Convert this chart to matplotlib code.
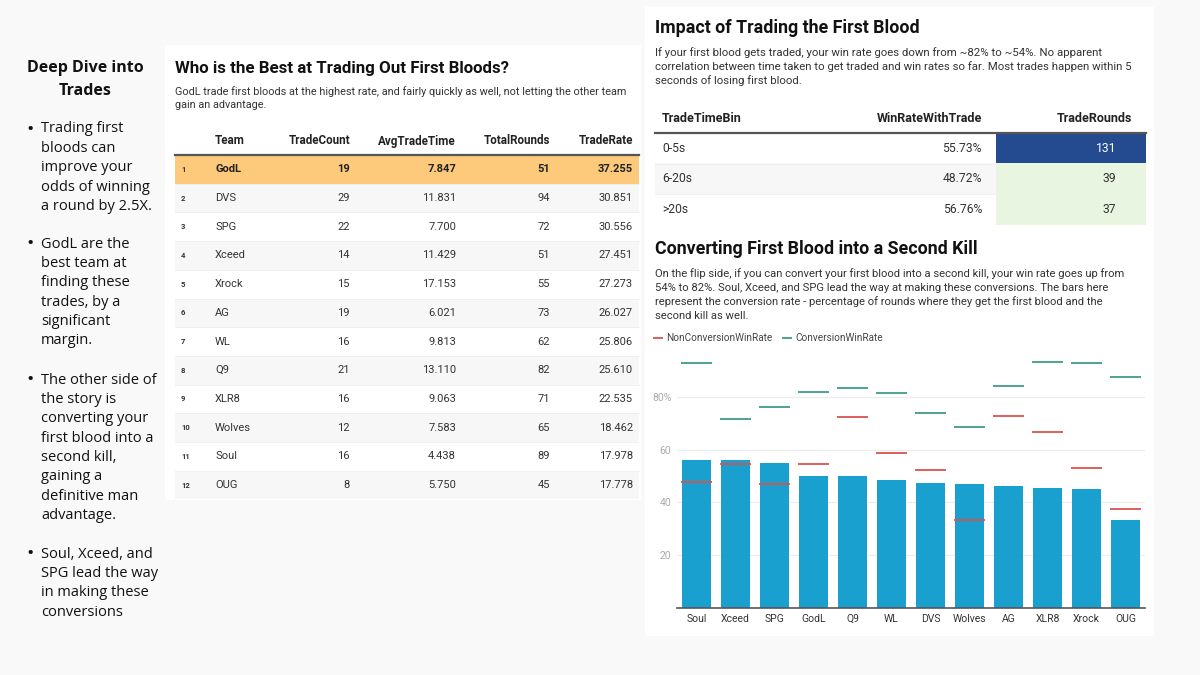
import matplotlib
matplotlib.use('Agg')
import matplotlib.pyplot as plt
from matplotlib.patches import Rectangle
from matplotlib.lines import Line2D

# ---------------- data ----------------
left_title = ["Deep Dive into", "Trades"]
bullets = [
    ["Trading first", "bloods can", "improve your", "odds of winning", "a round by 2.5X."],
    ["GodL are the", "best team at", "finding these", "trades, by a", "significant", "margin."],
    ["The other side of", "the story is", "converting your", "first blood into a", "second kill,",
     "gaining a", "definitive man", "advantage."],
    ["Soul, Xceed, and", "SPG lead the way", "in making these", "conversions"],
]

t1_title = "Who is the Best at Trading Out First Bloods?"
t1_sub = ["GodL trade first bloods at the highest rate, and fairly quickly as well, not letting the other team",
          "gain an advantage."]
t1_cols = ["Team", "TradeCount", "AvgTradeTime", "TotalRounds", "TradeRate"]
t1_team = ['GodL', 'DVS', 'SPG', 'Xceed', 'Xrock', 'AG', 'WL', 'Q9', 'XLR8', 'Wolves', 'Soul', 'OUG']
t1_trade_count = [19, 29, 22, 14, 15, 19, 16, 21, 16, 12, 16, 8]
t1_avg_time = [7.847, 11.831, 7.700, 11.429, 17.153, 6.021, 9.813, 13.110, 9.063, 7.583, 4.438, 5.750]
t1_total_rounds = [51, 94, 72, 51, 55, 73, 62, 82, 71, 65, 89, 45]
t1_trade_rate = [37.255, 30.851, 30.556, 27.451, 27.273, 26.027, 25.806, 25.610, 22.535, 18.462, 17.978, 17.778]

t2_title = "Impact of Trading the First Blood"
t2_sub = ["If your first blood gets traded, your win rate goes down from ~82% to ~54%. No apparent",
          "correlation between time taken to get traded and win rates so far. Most trades happen within 5",
          "seconds of losing first blood."]
t2_cols = ["TradeTimeBin", "WinRateWithTrade", "TradeRounds"]
t2_bins = ['0-5s', '6-20s', '>20s']
t2_winrate = [55.73, 48.72, 56.76]
t2_rounds = [131, 39, 37]

c_title = "Converting First Blood into a Second Kill"
c_sub = ["On the flip side, if you can convert your first blood into a second kill, your win rate goes up from",
         "54% to 82%. Soul, Xceed, and SPG lead the way at making these conversions. The bars here",
         "represent the conversion rate - percentage of rounds where they get the first blood and the",
         "second kill as well."]
c_teams = ['Soul', 'Xceed', 'SPG', 'GodL', 'Q9', 'WL', 'DVS', 'Wolves', 'AG', 'XLR8', 'Xrock', 'OUG']
c_conv_rate = [56.2, 55.9, 55.1, 49.9, 49.9, 48.4, 47.3, 47.0, 46.3, 45.3, 44.9, 33.2]
c_nonconv_win = [47.6, 54.6, 47.0, 54.6, 72.2, 58.9, 52.4, 33.3, 72.7, 66.6, 52.9, 37.5]
c_conv_win = [92.7, 71.5, 76.2, 81.9, 83.4, 81.3, 73.8, 68.7, 84.2, 93.3, 92.9, 87.5]
c_yticks = [20, 40, 60, 80]
c_yticklabels = ['20', '40', '60', '80%']

# ---------------- helpers ----------------
W, H = 1200, 675
fig = plt.figure(figsize=(12, 6.75), dpi=100)
fig.patch.set_facecolor('#f9f9f9')
DASH = ['Roboto', 'DejaVu Sans']
SIDE = ['Open Sans', 'DejaVu Sans']


def fx(x):
    return x / W


def fy(y):
    return 1 - y / H


def rect(x0, y0, x1, y1, color, z=-1):
    fig.patches.append(Rectangle((fx(x0), fy(y1)), (x1 - x0) / W, (y1 - y0) / H,
                                 transform=fig.transFigure, facecolor=color,
                                 edgecolor='none', zorder=z))


def hline(x0, x1, y, color, lw, z=0):
    fig.add_artist(Line2D([fx(x0), fx(x1)], [fy(y), fy(y)], color=color, lw=lw,
                          transform=fig.transFigure, zorder=z))


def text(x, y, s, size=8, color='#333333', weight='normal', ha='left', family=DASH, **kw):
    fig.text(fx(x), fy(y), s, fontsize=size, color=color, fontweight=weight, ha=ha,
             va='center', family=family, **kw)


# ---------------- panels ----------------
rect(165, 45, 641, 500, 'white', z=-2)
rect(645, 7, 1154, 636, 'white', z=-2)

# ---------------- left text ----------------
text(85, 68, left_title[0], size=11.5, weight='bold', ha='center', color='#111111', family=SIDE)
text(85, 91, left_title[1], size=11.5, weight='bold', ha='center', color='#111111', family=SIDE)
starts = [129, 244, 380, 554]
for lines, y0 in zip(bullets, starts):
    text(30, y0 + 0.5, '\u2022', size=14, color='#111111', ha='center', family=SIDE)
    for k, ln in enumerate(lines):
        text(41, y0 + k * 19.35, ln, size=10.5, color='#111111', family=SIDE)

# ---------------- table 1 ----------------
text(175, 69, t1_title, size=12.2, weight='bold', color='#111111')
for k, ln in enumerate(t1_sub):
    text(175, 92 + k * 13.5, ln, size=7.8, color='#333333')

col_x = [215, 350, 456, 550, 633]
col_ha = ['left', 'right', 'right', 'right', 'right']
for c, x, ha in zip(t1_cols, col_x, col_ha):
    text(x, 141, c, size=8.4, weight='bold', color='#222222', ha=ha)

top, rh = 155, 28.7
for i in range(len(t1_team)):
    y0 = top + i * rh
    if i == 0:
        bg = '#fdc97a'
    elif i % 2 == 1:
        bg = '#f7f7f7'
    else:
        bg = 'white'
    rect(175, y0, 639, y0 + rh, bg)
    if i > 0:
        hline(175, 639, y0, '#eeeeee', 0.6, z=-0.5)
    yc = y0 + rh / 2
    w = 'bold' if i == 0 else 'normal'
    col = '#222222' if i == 0 else '#333333'
    text(181, yc, str(i + 1), size=5.5, weight='bold', color='#333333')
    vals = [t1_team[i], f"{t1_trade_count[i]}", f"{t1_avg_time[i]:.3f}",
            f"{t1_total_rounds[i]}", f"{t1_trade_rate[i]:.3f}"]
    for v, x, ha in zip(vals, col_x, col_ha):
        text(x, yc, v, size=8, weight=w, color=col, ha=ha)
hline(175, 639, top, '#555555', 1.6, z=1)

# ---------------- table 2 ----------------
text(655, 28, t2_title, size=12.8, weight='bold', color='#111111')
for k, ln in enumerate(t2_sub):
    text(655, 53 + k * 14, ln, size=8.2, color='#333333')

t2x = [662, 982, 1132]
t2ha = ['left', 'right', 'right']
for c, x, ha in zip(t2_cols, t2x, t2ha):
    text(x, 118, c, size=9, weight='bold', color='#222222', ha=ha)

top2, rh2 = 133, 30.5
for i in range(len(t2_bins)):
    y0 = top2 + i * rh2
    rect(655, y0, 996, y0 + rh2, '#f7f7f7' if i == 1 else 'white')
    if i > 0:
        hline(655, 996, y0, '#eeeeee', 0.6, z=-0.5)
    hi = t2_rounds[i] == max(t2_rounds)
    rect(996, y0, 1146, y0 + rh2, '#244a8f' if hi else '#e8f5e1')
    yc = y0 + rh2 / 2
    text(662, yc, t2_bins[i], size=8.7, color='#333333')
    text(982, yc, f"{t2_winrate[i]:.2f}%", size=8.7, color='#333333', ha='right')
    text(1116, yc, f"{t2_rounds[i]}", size=8.7, color='white' if hi else '#333333', ha='right')
hline(655, 1146, top2, '#555555', 1.6, z=1)

# ---------------- conversion chart ----------------
text(655, 249, c_title, size=12.8, weight='bold', color='#111111')
for k, ln in enumerate(c_sub):
    text(655, 274 + k * 14, ln, size=8.1, color='#333333')

ax = fig.add_axes([fx(677), fy(608), (1145 - 677) / W, (608 - 344) / H])
ax.set_facecolor('none')
xs = list(range(len(c_teams)))
ax.bar(xs, c_conv_rate, width=0.72, color='#1aa0cf', zorder=2)
ax.hlines(c_nonconv_win, [x - 0.39 for x in xs], [x + 0.39 for x in xs],
          color='#d9534f', lw=1.3, zorder=3, label='NonConversionWinRate')
ax.hlines(c_conv_win, [x - 0.39 for x in xs], [x + 0.39 for x in xs],
          color='#3f9c87', lw=1.3, zorder=3, label='ConversionWinRate')
ax.set_xlim(-0.5, len(c_teams) - 0.5)
ax.set_ylim(0, 100)
ax.set_xticks(xs)
ax.set_xticklabels(c_teams, fontsize=7.5, color='#333333', family=DASH)
ax.set_yticks(c_yticks)
ax.set_yticklabels(c_yticklabels, fontsize=7.5, color='#aaaaaa', family=DASH)
ax.tick_params(axis='both', length=0)
ax.tick_params(axis='x', pad=4)
ax.tick_params(axis='y', pad=4)
ax.grid(axis='y', color='#ececec', lw=0.8, zorder=0)
ax.set_axisbelow(True)
for s in ['top', 'right', 'left']:
    ax.spines[s].set_visible(False)
ax.spines['bottom'].set_color('#555555')
ax.spines['bottom'].set_linewidth(1.2)
ax.spines['bottom'].set_zorder(4)
leg = ax.legend(loc='center left', bbox_to_anchor=(fx(653), fy(338)),
                bbox_transform=fig.transFigure, ncol=2, frameon=False,
                fontsize=7.2, handlelength=1.0, handletextpad=0.35,
                columnspacing=0.9, borderaxespad=0, borderpad=0)
for t in leg.get_texts():
    t.set_color('#444444')
    t.set_family(DASH)

fig.savefig('out.png', dpi=100, facecolor=fig.get_facecolor())
